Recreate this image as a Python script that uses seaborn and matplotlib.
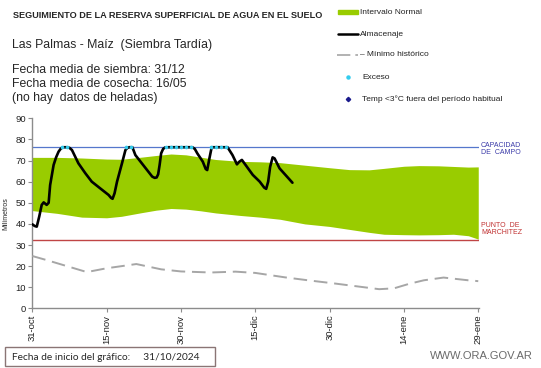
import pandas as pd
import seaborn as sns
import matplotlib.pyplot as plt
from matplotlib.lines import Line2D
from matplotlib.patches import Rectangle

# fecha de inicio del grafico
inicio = pd.Timestamp('2024-10-31')

# intervalo normal (dias desde el inicio, mm)
banda_dias = [0, 5, 10, 15, 18, 22, 25, 28, 31, 34, 37, 42, 46, 50, 55, 60, 64, 68, 71, 75, 78, 82,
              85, 88, 90]
banda_sup = [71.5, 71.5, 71.2, 70.7, 70.6, 71.6, 72.4, 73.1, 72.7, 71.6, 70.5, 69.6, 69.4, 69.0, 67.8,
             66.6, 65.7, 65.6, 66.3, 67.3, 67.6, 67.5, 67.2, 66.9, 67.0]
banda_inf = [46.3, 45.0, 43.2, 42.9, 43.6, 45.3, 46.5, 47.3, 47.0, 46.2, 45.2, 44.0, 43.2, 42.2, 40.0,
             38.8, 37.4, 36.0, 35.1, 34.9, 34.8, 34.9, 35.1, 34.4, 32.8]

# almacenaje
alm_dias = [0, 0.5, 0.9, 1.4, 1.9, 2.3, 2.9, 3.3, 3.6, 4.3, 4.8, 5.3, 5.8, 6.3, 7.0, 7.5, 8.0, 9.3,
            10.7, 12.0, 14.1, 15.4, 15.9, 16.2, 16.6, 17.1, 18.1, 18.8, 19.2, 19.6, 20.2, 20.8,
            22.9, 24.2, 24.7, 25.1, 25.4, 25.7, 26.0, 26.4, 26.8, 27.5, 32.3, 32.8, 33.3, 34.4,
            35.0, 35.3, 35.7, 36.2, 39.4, 40.4, 41.3, 41.8, 42.3, 44.5, 45.9, 46.8, 47.2, 47.6,
            48.0, 48.5, 48.9, 49.9, 52.5]
alm_mm = [39.8, 39.0, 38.7, 43.5, 49.0, 50.2, 49.0, 50.0, 58.4, 67.9, 71.5, 74.2, 75.8, 76.3, 76.3,
          76.0, 75.0, 68.7, 64.0, 60.0, 56.1, 53.7, 52.3, 51.9, 54.5, 60.0, 68.7, 75.0, 76.0, 76.3,
          76.3, 72.6, 66.3, 62.4, 61.8, 62.0, 63.5, 68.0, 73.4, 75.5, 76.2, 76.3, 76.3, 75.5, 73.4,
          69.5, 66.0, 65.5, 70.5, 76.3, 76.3, 72.6, 68.2, 69.5, 70.3, 63.2, 60.0, 57.2, 56.6, 60.0,
          67.0, 71.5, 71.0, 66.3, 59.5]

# minimo historico
min_dias = [0, 3, 7, 11, 15, 21, 26, 30, 36, 41, 45, 51, 56, 61, 66, 70, 73, 76, 79, 83, 88, 90]
min_mm = [24.8, 22.8, 20.0, 17.2, 19.0, 21.0, 18.5, 17.5, 17.0, 17.4, 16.8, 14.7, 13.2, 11.8, 10.3,
          9.1, 9.5, 11.6, 13.3, 14.6, 13.3, 12.9]

# dias con exceso
exceso_dias = [6, 7, 19, 20, 27, 28, 29, 30, 31, 32, 36, 37, 38, 39]

capacidad = 76.3
marchitez = 32.3

tick_dias = [0, 15, 30, 45, 60, 75, 90]
tick_labels = ['31-oct', '15-nov', '30-nov', '15-dic', '30-dic', '14-ene', '29-ene']


def fecha(dias):
    return inicio + pd.to_timedelta(pd.Series(dias, dtype=float), unit='D')


def px(x, y):
    return x / 541, 1 - y / 368


sns.set_theme(style='ticks')
plt.rcParams['font.family'] = ['Liberation Sans', 'DejaVu Sans']

fig = plt.figure(figsize=(5.41, 3.68), dpi=100)
ax = fig.add_axes([32.3 / 541, 1 - 308.4 / 368, (478.5 - 32.3) / 541, (308.4 - 118.3) / 368])

verde = '#99cc00'
ax.fill_between(fecha(banda_dias), banda_inf, banda_sup, color=verde, lw=0, zorder=1)
ax.axhline(capacidad, color='#5577cc', lw=0.9, zorder=2)
ax.axhline(marchitez, color='#c04545', lw=1.0, zorder=2)

df_min = pd.DataFrame({'fecha': fecha(min_dias), 'mm': min_mm})
sns.lineplot(data=df_min, x='fecha', y='mm', ax=ax, color='#a6a6a6', lw=1.4,
             dashes=False, zorder=3).lines[-1].set_dashes((7, 3.5))

df_alm = pd.DataFrame({'fecha': fecha(alm_dias), 'mm': alm_mm})
sns.lineplot(data=df_alm, x='fecha', y='mm', ax=ax, color='black', lw=1.9, zorder=4)

df_exc = pd.DataFrame({'fecha': fecha(exceso_dias), 'mm': [capacidad] * len(exceso_dias)})
sns.scatterplot(data=df_exc, x='fecha', y='mm', ax=ax, color='#33ccee', s=7, marker='o',
                linewidth=0, zorder=5)

ax.set_xlim(fecha([0])[0], fecha([90.05])[0])
ax.set_ylim(0, 90)
ax.set_yticks(range(0, 91, 10))
ax.set_xticks(fecha(tick_dias))
ax.set_xticklabels(tick_labels, rotation=90)
ax.set_xlabel('')
ax.set_ylabel('Milímetros', fontsize=5, labelpad=4)
for s in ['top', 'right']:
    ax.spines[s].set_visible(False)
for s in ['left', 'bottom']:
    ax.spines[s].set_color('#8c8c8c')
    ax.spines[s].set_linewidth(1.0)
ax.tick_params(axis='both', direction='out', length=3, width=0.8, color='#8c8c8c',
               labelsize=6.8, pad=1.5, labelcolor='#222222')

# etiquetas de las lineas de referencia
fig.text(*px(481, 149), 'CAPACIDAD\nDE  CAMPO', color='#3a3aa8', fontsize=5, va='center',
         linespacing=1.15)
fig.text(*px(481, 229), 'PUNTO  DE\nMARCHITEZ', color='#c03030', fontsize=5, va='center',
         linespacing=1.15)

# textos de cabecera
fig.text(*px(13, 15), 'SEGUIMIENTO DE LA RESERVA SUPERFICIAL DE AGUA EN EL SUELO',
         fontsize=6.55, fontweight='bold', va='center')
fig.text(*px(12, 45), 'Las Palmas - Maíz  (Siembra Tardía)', fontsize=8.8, va='center')
fig.text(*px(12, 70), 'Fecha media de siembra: 31/12', fontsize=8.8, va='center')
fig.text(*px(12, 84), 'Fecha media de cosecha: 16/05', fontsize=8.8, va='center')
fig.text(*px(12, 98), '(no hay  datos de heladas)', fontsize=8.8, va='center')

# leyenda manual
fig.add_artist(Rectangle(px(338, 14.3), 20 / 541, 4 / 368, color=verde, transform=fig.transFigure))
fig.add_artist(Line2D([338 / 541, 358 / 541], [1 - 34.3 / 368] * 2, color='black', lw=1.8,
                      transform=fig.transFigure))
fig.add_artist(Line2D([337 / 541, 358 / 541], [1 - 55 / 368] * 2, color='#a6a6a6', lw=1.2,
                      dashes=(8, 3), transform=fig.transFigure))
fig.add_artist(Line2D([348.3 / 541], [1 - 77.3 / 368], marker='o', ms=2.2, color='#33ccee',
                      lw=0, transform=fig.transFigure))
fig.add_artist(Line2D([348.3 / 541], [1 - 99.3 / 368], marker='D', ms=2.2, color='#1a1a8c',
                      lw=0, transform=fig.transFigure))
leyenda = [(360, 12.3, 'Intervalo Normal'), (360, 34.3, 'Almacenaje'),
           (360, 55, '– Mínimo histórico'), (362, 77.3, 'Exceso'),
           (362, 99.3, 'Temp <3°C fuera del período habitual')]
for x, y, t in leyenda:
    fig.text(*px(x, y), t, fontsize=6, va='center', color='#222222')

# pie
fig.add_artist(Rectangle(px(5, 366), 210 / 541, 19 / 368, fill=False, edgecolor='#8a7575',
                         lw=1.0, transform=fig.transFigure))
fig.text(*px(12, 357), 'Fecha de inicio del gráfico:     31/10/2024', fontsize=7.3,
         va='center', family=['Lato', 'DejaVu Sans'])
fig.text(*px(533, 356), 'WWW.ORA.GOV.AR', fontsize=8, color='#6a6a6a',
         ha='right', va='center')

fig.savefig('out.png', dpi=100)
